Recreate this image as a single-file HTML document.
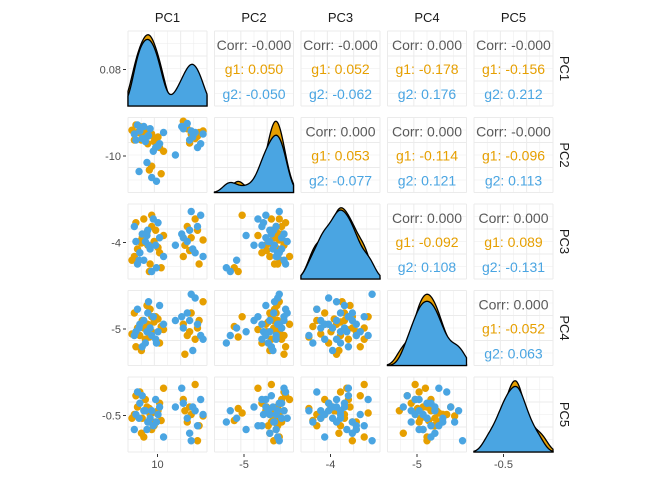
<!DOCTYPE html>
<html><head><meta charset="utf-8"><style>
body{margin:0;background:#fff;font-family:"Liberation Sans",sans-serif}
svg text{font-family:"Liberation Sans",sans-serif}
</style></head><body>
<svg id="c" width="672" height="480"></svg>
<script>
const vars=["PC1","PC2","PC3","PC4","PC5"];
const g1PC1=[12,18,22,8,30,25,15,35,40,20,28,10,33,45,38,5,24,17,70,75,80,85,90,72,88,78,95,30,42,27];
const g1PC2=[80,75,85,70,78,65,88,72,60,82,76,90,68,55,74,83,79,70,95,85,78,72,80,88,75,66,82,35,25,30];
const g1PC3=[40,55,60,30,70,45,50,65,35,80,20,75,50,58,42,25,62,48,30,70,55,80,20,45,65,38,52,85,15,10];
const g1PC4=[50,60,35,70,45,55,40,65,30,50,75,25,58,48,62,42,80,20,55,40,70,35,60,15,50,45,85,65,52,38];
const g1PC5=[60,45,70,50,30,55,80,40,65,20,50,75,35,85,55,45,60,25,70,40,50,90,35,55,15,60,48,52,42,58];
const g2PC1=[10,15,25,35,20,8,40,28,18,32,45,22,12,38,26,70,78,85,92,75,82,88,68,95,80,30,36,14,60,24];
const g2PC2=[70,82,75,60,88,78,65,85,72,55,80,68,90,62,76,85,70,80,65,92,74,60,88,78,82,20,15,28,50,40];
const g2PC3=[50,35,65,45,25,70,55,40,60,80,30,50,20,75,45,55,65,35,85,50,40,70,60,30,90,10,15,25,45,58];
const g2PC4=[45,55,70,35,60,40,80,50,25,65,55,30,75,45,85,50,60,90,40,70,20,55,65,35,95,40,30,50,60,45];
const g2PC5=[50,65,40,70,55,30,60,45,75,35,20,55,80,50,40,65,25,55,70,45,60,35,85,50,15,55,40,45,60,30];
const corrLabels=[["","-0.000","-0.000","0.000","-0.000"],["","","0.000","0.000","-0.000"],["","","","0.000","0.000"],["","","","","0.000"]];
const g1Labels=[["","0.050","0.052","-0.178","-0.156"],["","","0.053","-0.114","-0.096"],["","","","-0.092","0.089"],["","","","","-0.052"]];
const g2Labels=[["","-0.050","-0.062","0.176","0.212"],["","","-0.077","0.121","0.113"],["","","","0.108","-0.131"],["","","","","0.063"]];
const yTickLabels=["0.08","-10","-4","-5","-0.5"];
const xTickLabels=["10","-5","-4","-5","-0.5"];

const G=[[g1PC1,g1PC2,g1PC3,g1PC4,g1PC5],[g2PC1,g2PC2,g2PC3,g2PC4,g2PC5]];
const cols=["#E69F00","#4AA5E2"];
const svg=document.getElementById('c');const NS="http://www.w3.org/2000/svg";
function el(t,a,p){const e=document.createElementNS(NS,t);for(const k in a)e.setAttribute(k,a[k]);(p||svg).appendChild(e);return e;}
const X0=128,PW=79,PX=86.5,Y0=31,PH=75,PY=86.5;
const dmin=0,dmax=100;
function sx(i,v){return X0+i*PX+(v-dmin)/(dmax-dmin)*PW;}
function sy(j,v){return Y0+j*PY+PH-(v-dmin)/(dmax-dmin)*PH;}
for(let i=0;i<5;i++){
 const t=el('text',{x:X0+i*PX+PW/2,y:22,'text-anchor':'middle','font-size':13,fill:'#1a1a1a'});t.textContent=vars[i];
 
 const r=el('text',{x:0,y:0,'font-size':13,fill:'#1a1a1a','text-anchor':'middle',transform:`translate(560,${Y0+i*PY+PH/2}) rotate(90)`});r.textContent=vars[i];
 
}
function kde(arr,x,bw){let s=0;for(const v of arr){const z=(x-v)/bw;s+=Math.exp(-z*z/2);}return s/(arr.length*bw*2.5066);}
for(let j=0;j<5;j++)for(let i=0;i<5;i++){
 const px=X0+i*PX,py=Y0+j*PY;
 const g=el('g',{});
 for(let k=0;k<=6;k++){const w=k%2?0.5:1;
  el('line',{x1:px+k*PW/6,x2:px+k*PW/6,y1:py,y2:py+PH,stroke:'#ebebeb','stroke-width':w},g);
  el('line',{y1:py+k*PH/6,y2:py+k*PH/6,x1:px,x2:px+PW,stroke:'#ebebeb','stroke-width':w},g);}
 if(i>j){
  const cx=px+PW/2;
  const a=el('text',{x:cx,y:py+19,'text-anchor':'middle','font-size':14,fill:'#595959'},g);a.textContent='Corr: '+corrLabels[j][i];
  const b=el('text',{x:cx,y:py+43,'text-anchor':'middle','font-size':14,fill:cols[0]},g);b.textContent='g1: '+g1Labels[j][i];
  const c=el('text',{x:cx,y:py+68,'text-anchor':'middle','font-size':14,fill:cols[1]},g);c.textContent='g2: '+g2Labels[j][i];
 } else if(i==j){
  const xs=[];for(let v=dmin;v<=dmax;v+=1)xs.push(v);
  const ds=G.map(gr=>xs.map(x=>kde(gr[i],x,7)));
  const mx=Math.max(...ds.flat());
  ds.forEach((d,gi)=>{let p=`M${sx(i,dmin)},${py+PH}`;xs.forEach((x,k)=>p+=`L${sx(i,x)},${py+PH-d[k]/mx*PH*0.95}`);p+=`L${sx(i,dmax)},${py+PH}Z`;
   const e=el('path',{d:p,fill:cols[gi],stroke:'#000','stroke-width':1.3},g);});
 } else {
  G.forEach((gr,gi)=>gr[i].forEach((v,k)=>{const e=el('circle',{cx:sx(i,v),cy:sy(j,gr[j][k]),r:3.7,fill:cols[gi]},g);
   }));
 }
}
for(let j=0;j<5;j++){const y=Y0+j*PY+PH/2+1;
 el('line',{x1:123,x2:126,y1:y,y2:y,stroke:'#333'});
 const t=el('text',{x:121,y:y+4,'text-anchor':'end','font-size':11,fill:'#4d4d4d'});t.textContent=yTickLabels[j];
 }
for(let i=0;i<5;i++){const x=X0+i*PX+PW/2-10;
 el('line',{x1:x,x2:x,y1:454,y2:457,stroke:'#333'});
 const t=el('text',{x:x,y:468,'text-anchor':'middle','font-size':11,fill:'#4d4d4d'});t.textContent=xTickLabels[i];
 }
</script></body></html>
